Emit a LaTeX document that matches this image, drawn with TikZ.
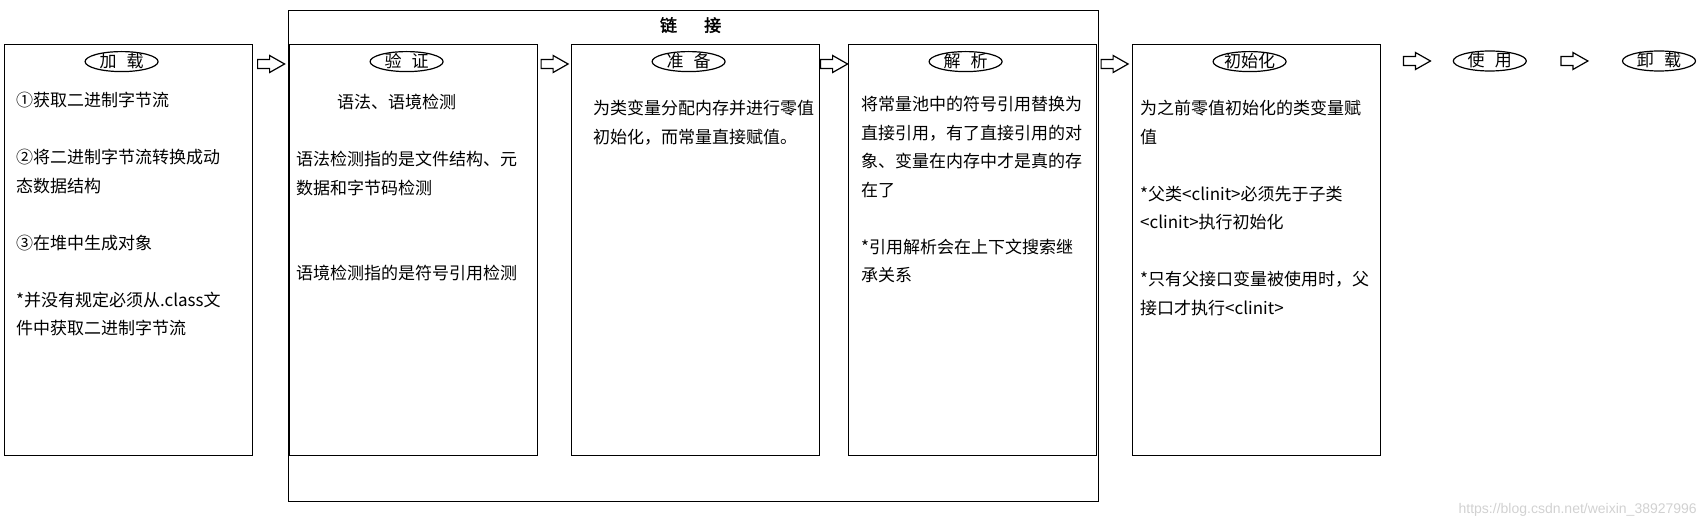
\documentclass[tikz,border=0pt]{standalone}
\usepackage{fontspec}
\setmainfont{Noto Sans CJK SC}[AutoFakeBold=2]
\newfontfamily\urlfont{Liberation Sans}
\usepackage{tikz}
\usetikzlibrary{calc,positioning,shapes.geometric}
\tikzset{
    %Define style for the phase boxes
    phase/.style={
           rectangle,
           draw=black, line width=1.2pt,
           minimum width=248pt,
           minimum height=411pt,
           anchor=north west,
           inner sep=0pt},
    %Define style for the text in a box
    phasetext/.style={
           anchor=north west,
           align=left,
           inner sep=0pt,
           font=\fontsize{17}{28.5}\selectfont},
    %Define style for the oval titles
    stage/.style={
           ellipse,
           draw=black, line width=1.2pt,
           minimum width=73pt,
           minimum height=20pt,
           inner sep=0pt,
           text height=12pt, text depth=0pt,
           font=\fontsize{17}{17}\selectfont},
    %Define the hollow arrow
    hollowarrow/.pic={
           \draw[line width=1.2pt, fill=white] (-13.5,-4.5) -- (-1.5,-4.5) -- (-1.5,-8.5)
              -- (13.5,0) -- (-1.5,8.5) -- (-1.5,4.5) -- (-13.5,4.5) -- cycle;}
}
\newcommand{\gap}{\hspace{0.6em}}

\begin{document}
\begin{tikzpicture}[x=1pt,y=-1pt]
\useasboundingbox (0,0) rectangle (1706,529);

 %boxes
\node[phase, minimum width=810pt, minimum height=491pt](link) at (288,10) {};
\node[phase](load) at (4,44) {};
\node[phase](verify) at (289,44) {};
\node[phase](prepare) at (571,44) {};
\node[phase](resolve) at (848,44) {};
\node[phase](init) at (1132,44) {};

 %titles
\node[inner sep=0pt, font=\bfseries\fontsize{17}{17}\selectfont, below=7pt of link.north, xshift=-3pt](linktitle){链\hspace{1.6em}接};
\node[stage, below=7pt of load.north, xshift=-7pt](loadt){加\gap 载};
\node[stage, below=7pt of verify.north, xshift=-7pt](verifyt){验\gap 证};
\node[stage, below=7pt of prepare.north, xshift=-7pt](preparet){准\gap 备};
\node[stage, below=7pt of resolve.north, xshift=-7pt](resolvet){解\gap 析};
\node[stage, below=7pt of init.north, xshift=-7pt](initt){初始化};
\node[stage, right=71.5pt of init.north east, yshift=-17pt](use){使\gap 用};
\node[stage, right=95pt of use](unload){卸\gap 载};

 %texts
\node[phasetext](loadtxt) at ($(load.north west)+(12,48)$)
   {①获取二进制字节流\\[28.5pt]②将二进制字节流转换成动\\态数据结构\\[28.5pt]③在堆中生成对象\\[28.5pt]*并没有规定必须从.class文\\件中获取二进制字节流};
\node[phasetext](verifytxt) at ($(verify.north west)+(7,50)$)
   {\hspace*{41pt}语法、语境检测\\[28.5pt]语法检测指的是文件结构、元\\数据和字节码检测\\[57pt]语境检测指的是符号引用检测};
\node[phasetext](preparetxt) at ($(prepare.north west)+(22,56)$)
   {为类变量分配内存并进行零值\\初始化，而常量直接赋值。};
\node[phasetext](resolvetxt) at ($(resolve.north west)+(13,52)$)
   {将常量池中的符号引用替换为\\直接引用，有了直接引用的对\\象、变量在内存中才是真的存\\在了\\[28.5pt]*引用解析会在上下文搜索继\\承关系};
\node[phasetext](inittxt) at ($(init.north west)+(8,56)$)
   {为之前零值初始化的类变量赋\\值\\[28.5pt]*父类<clinit>必须先于子类\\<clinit>执行初始化\\[28.5pt]*只有父接口变量被使用时，父\\接口才执行<clinit>};

 %arrows
\foreach \a/\b in {load/verify,verify/prepare,prepare/resolve,resolve/init}
   \pic at ($(\a.north east)!.5!(\b.north west)+(0,20)$) {hollowarrow};
\pic at ($(init.east |- use.center)!.5!(use.west)$) {hollowarrow};
\pic at ($(use.east)!.5!(unload.west)$) {hollowarrow};

\node[inner sep=0pt, anchor=east, text=black!18, font=\urlfont\fontsize{14}{14}\selectfont](mark) at (1697,510){https://blog.csdn.net/weixin\_38927996};

\end{tikzpicture}
\end{document}
